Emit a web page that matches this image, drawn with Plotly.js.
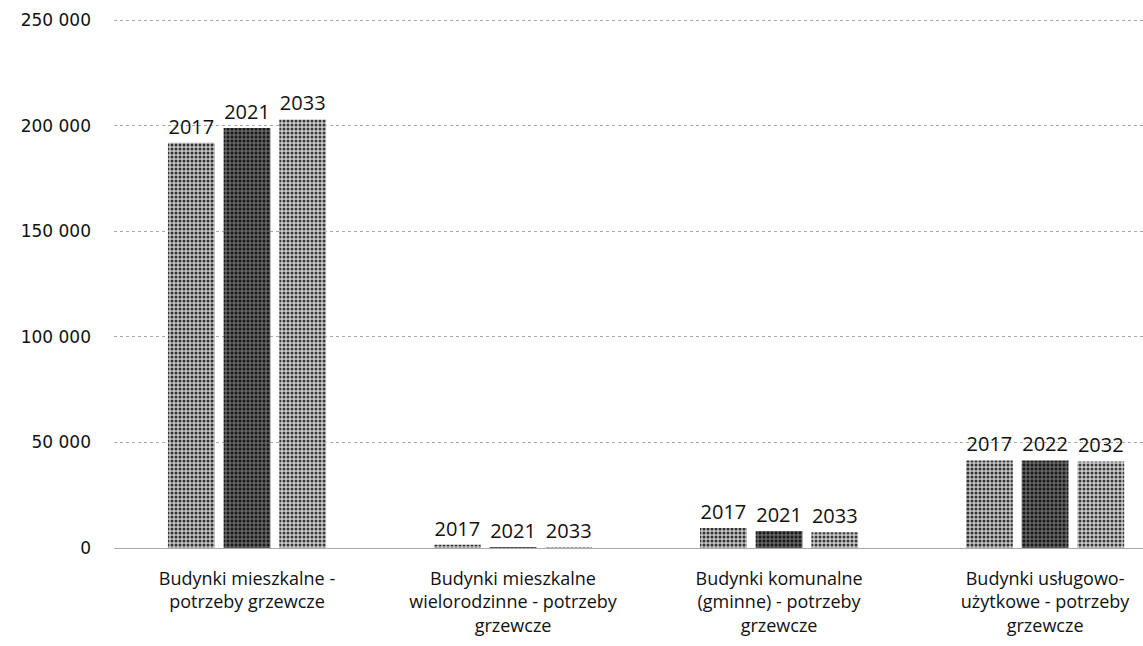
<!DOCTYPE html>
<html>
<head>
<meta charset="utf-8">
<script src="https://cdn.plot.ly/plotly-3.0.1.min.js"></script>
<style>html,body{margin:0;padding:0;background:#fff;}#chart{width:1143px;height:646px;}</style>
</head>
<body>
<div id="chart"></div>
<script>
const categories = [
  "Budynki mieszkalne -<br>potrzeby grzewcze",
  "Budynki mieszkalne<br>wielorodzinne - potrzeby<br>grzewcze",
  "Budynki komunalne<br>(gminne) - potrzeby<br>grzewcze",
  "Budynki usługowo-<br>użytkowe - potrzeby<br>grzewcze"
];
const valuesA = [192000, 1500, 9500, 41500];
const valuesB = [199000, 500, 8000, 41500];
const valuesC = [203000, 500, 7500, 41000];
const labelsA = ["2017", "2017", "2017", "2017"];
const labelsB = ["2021", "2021", "2021", "2022"];
const labelsC = ["2033", "2033", "2033", "2032"];
const yTicks = [0, 50000, 100000, 150000, 200000, 250000];

const font = "Open Sans, DejaVu Sans, sans-serif";
function tr(y, txt, bg, fg) {
  return {
    type: "bar", x: categories, y: y, text: txt,
    textposition: "outside", cliponaxis: false,
    textfont: {family: font, size: 20, color: "#111"},
    marker: {color: bg, line: {width: 0}, pattern: {shape: ".", fgcolor: fg, bgcolor: bg, size: 4, solidity: 0.45}},
    hoverinfo: "skip", showlegend: false
  };
}
const data = [
  tr(valuesA, labelsA, "#c4c4c4", "#333333"),
  tr(valuesB, labelsB, "#666666", "#1a1a1a"),
  tr(valuesC, labelsC, "#cccccc", "#3a3a3a")
];
const layout = {
  width: 1143, height: 646,
  margin: {l: 114, r: 0, t: 19, b: 98},
  paper_bgcolor: "#fff", plot_bgcolor: "#fff",
  separators: ". ",
  barmode: "group", bargap: 0.372, bargroupgap: 0.16,
  font: {family: font, color: "#111"},
  xaxis: {
    range: [-0.5, 3.368], showline: false, ticks: "",
    tickfont: {family: font, size: 18, color: "#111"},
    ticklabelstandoff: 18,
    showgrid: false, zeroline: false
  },
  yaxis: {
    range: [0, 250600], tickvals: yTicks, tickformat: ",d",
    tickfont: {family: "DejaVu Sans, sans-serif", size: 17, color: "#111"},
    ticklabelstandoff: 22,
    showgrid: true, gridcolor: "#aaaaaa", griddash: "dot", gridwidth: 1,
    zeroline: true, zerolinecolor: "#aaaaaa", zerolinewidth: 1,
    showline: false
  }
};
Plotly.newPlot("chart", data, layout, {displayModeBar: false, staticPlot: true});
</script>
</body>
</html>
